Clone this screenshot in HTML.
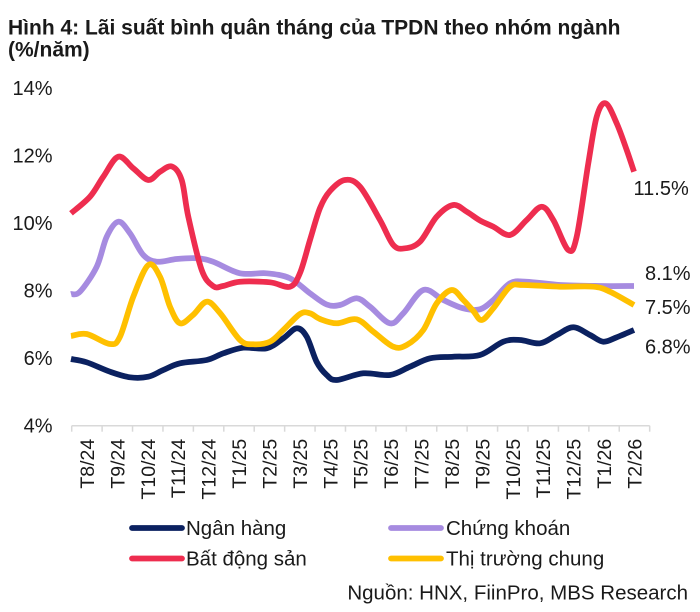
<!DOCTYPE html>
<html>
<head>
<meta charset="utf-8">
<style>
  html,body{margin:0;padding:0;background:#ffffff;}
  body{width:700px;height:612px;overflow:hidden;}
  svg{display:block;}
  text{font-family:"Liberation Sans", Arial, sans-serif;fill:#1a1a1a;}
</style>
</head>
<body>
<svg id="chart" width="700" height="612" viewBox="0 0 700 612" xmlns="http://www.w3.org/2000/svg">
  <!-- Title -->
  <text x="8" y="34.3" font-size="21" font-weight="bold">Hình 4: Lãi suất bình quân tháng của TPDN theo nhóm ngành</text>
  <text x="8" y="56.7" font-size="21" font-weight="bold">(%/năm)</text>

  <!-- Y axis labels -->
  <g font-size="20" text-anchor="end">
    <text x="52.5" y="95">14%</text>
    <text x="52.5" y="162.6">12%</text>
    <text x="52.5" y="230.1">10%</text>
    <text x="52.5" y="297.7">8%</text>
    <text x="52.5" y="365.2">6%</text>
    <text x="52.5" y="432.7">4%</text>
  </g>

  <!-- X axis -->
  <g id="axis" stroke="#d9d9d9" stroke-width="1.5" fill="none">
    <line x1="71.7" y1="425.7" x2="649.7" y2="425.7"/>
  </g>
  <g id="xlabels" font-size="19.5" text-anchor="end"></g>

  <!-- Series -->
  <g fill="none" stroke-width="5.75" stroke-linecap="butt" stroke-linejoin="round">
    <path id="s_navy" stroke="#0b2160" d=""/>
    <path id="s_purple" stroke="#a68be0" d=""/>
    <path id="s_red" stroke="#ee2d4f" d=""/>
    <path id="s_yellow" stroke="#ffc000" d=""/>
  </g>

  <!-- End labels -->
  <g font-size="20">
    <text x="633.5" y="195">11.5%</text>
    <text x="645" y="280">8.1%</text>
    <text x="645" y="314">7.5%</text>
    <text x="645" y="353.3">6.8%</text>
  </g>

  <!-- Legend -->
  <g stroke-width="5.75" stroke-linecap="round">
    <line x1="132" y1="528" x2="182" y2="528" stroke="#0b2160"/>
    <line x1="391" y1="528" x2="441" y2="528" stroke="#a68be0"/>
    <line x1="132" y1="558.5" x2="182" y2="558.5" stroke="#ee2d4f"/>
    <line x1="391" y1="558.5" x2="441" y2="558.5" stroke="#ffc000"/>
  </g>
  <g font-size="20.5">
    <text x="186" y="535">Ngân hàng</text>
    <text x="446" y="535">Chứng khoán</text>
    <text x="186" y="565.5">Bất động sản</text>
    <text x="446" y="565.5">Thị trường chung</text>
  </g>

  <!-- Source -->
  <text x="688" y="599.3" font-size="20.5" text-anchor="end">Nguồn: HNX, FiinPro, MBS Research</text>

  <!-- Static x tick marks and labels (fallback, also replaced by script identically) -->
  <g id="ticks" stroke="#d9d9d9" stroke-width="1.5"></g>
</svg>

<script>
(function(){
  var NS="http://www.w3.org/2000/svg";
  var labels=["T8/24","T9/24","T10/24","T11/24","T12/24","T1/25","T2/25","T3/25","T4/25","T5/25","T6/25","T7/25","T8/25","T9/25","T10/25","T11/25","T12/25","T1/26","T2/26"];
  var x0=71.7, step=30.42;
  var ticks=document.getElementById("ticks");
  for(var k=0;k<=19;k++){
    var l=document.createElementNS(NS,"line");
    var x=x0+step*k;
    l.setAttribute("x1",x);l.setAttribute("x2",x);
    l.setAttribute("y1",425.7);l.setAttribute("y2",431.7);
    ticks.appendChild(l);
  }
  var xl=document.getElementById("xlabels");
  for(var i=0;i<labels.length;i++){
    var cx=x0+step*(i+0.5);
    var t=document.createElementNS(NS,"text");
    t.setAttribute("transform","translate("+(cx+7).toFixed(2)+",438.8) rotate(-90)");
    t.textContent=labels[i];
    xl.appendChild(t);
  }

  var data={
    s_red:[[71,213.3],[90,196.7],[103.3,176.7],[118.3,156.7],[133.3,168.3],[148.3,180],[160,171.7],[172,166.5],[181.7,180],[188.3,216.7],[201.7,270],[213.3,286.2],[223,286],[240,281.7],[270,282.3],[290,286.7],[300,273],[310,240],[320,208],[330,191],[345,180],[360,186.7],[380,220],[393.3,245],[405,248.3],[420,241.7],[436.7,216.7],[453.3,205],[466.7,211.7],[480,220.5],[493.3,226.7],[510,235],[526.7,220],[541.7,206.7],[553.3,220],[568.3,250],[576.7,236.7],[588.3,163.3],[596.7,116.7],[605.7,103.3],[616.7,123.3],[626.7,150],[634,171.7]],
    s_purple:[[71,294],[80,291.7],[96.7,266.7],[106.7,236.7],[118.3,221.7],[130,233.3],[143.3,255],[156.7,261.7],[176.7,259],[196.7,258.3],[213,261.7],[240,273.3],[266.7,273.3],[290,278.3],[310,293.3],[326.7,304.5],[340,305],[356.7,298.3],[370,306.7],[390,323.3],[403.3,313.3],[423.3,290],[443.3,300],[463.3,308.3],[480,309.3],[493.3,300],[510,283.3],[526.7,281.7],[560,285],[600,286],[634,286]],
    s_yellow:[[71,336],[86.7,334],[110,344],[120,336.7],[133.3,296.7],[148.3,265],[160,276.7],[170,306.7],[180,323.3],[193,315],[206.7,301.7],[220,313],[240,340],[253.3,344.3],[270,341.7],[283.3,330],[300,314],[310,313.3],[320,319],[336.7,323.3],[356.7,319.3],[373.3,331.7],[393.3,346.7],[406.7,345],[423.3,330],[436.7,303.3],[451.7,290],[463.3,300],[473.3,311],[481.7,320],[493.3,308.3],[510,286.7],[523.3,285],[560,286.7],[593.3,286.7],[610,291.7],[634,305]],
    s_navy:[[71,359],[86.7,362.3],[110,371.7],[130,377.3],[148.3,376.7],[163.3,370],[180,363.3],[206.7,360],[223.3,353.3],[243.3,347.7],[266.7,348.3],[283.3,338.3],[296.7,328.3],[306.7,336.7],[316.7,362],[326.7,375],[336.7,380],[363.3,373.3],[390,375],[410,366.7],[430,358.3],[453.3,356.7],[480,355],[503.3,341.7],[520,340],[540,343.3],[556.7,335],[573.3,327.3],[590,335],[603.3,341.7],[616.7,337.3],[634,330]]
  };
  function smooth(p){
    var d="M"+p[0][0]+","+p[0][1];
    for(var i=0;i<p.length-1;i++){
      var p0=p[i-1]||p[i], p1=p[i], p2=p[i+1], p3=p[i+2]||p[i+1];
      var c1x=p1[0]+(p2[0]-p0[0])/6, c1y=p1[1]+(p2[1]-p0[1])/6;
      var c2x=p2[0]-(p3[0]-p1[0])/6, c2y=p2[1]-(p3[1]-p1[1])/6;
      d+=" C"+c1x.toFixed(2)+","+c1y.toFixed(2)+" "+c2x.toFixed(2)+","+c2y.toFixed(2)+" "+p2[0]+","+p2[1];
    }
    return d;
  }
  for(var id in data){
    document.getElementById(id).setAttribute("d",smooth(data[id]));
  }
})();
</script>
</body>
</html>
